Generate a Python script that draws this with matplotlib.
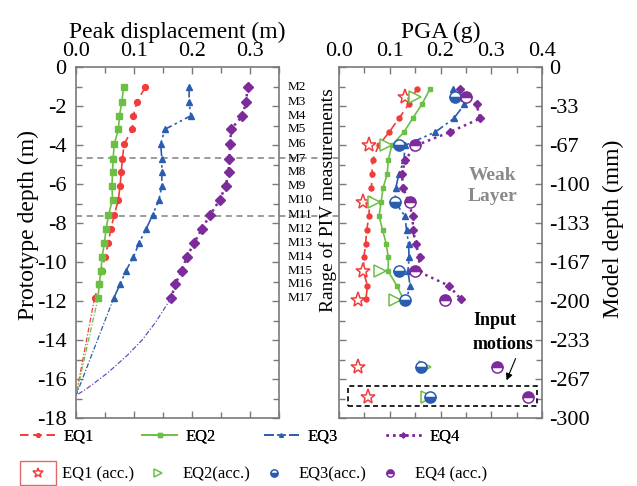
import numpy as np
import matplotlib
matplotlib.use("Agg")
import matplotlib.pyplot as plt
from matplotlib.lines import Line2D
from matplotlib.patches import Rectangle

plt.rcParams["font.family"] = ["Liberation Serif", "DejaVu Serif"]
plt.rcParams["axes.unicode_minus"] = False

# ---- values ----
gauges = ["M2", "M3", "M4", "M5", "M6", "M7", "M8", "M9", "M10",
          "M11", "M12", "M13", "M14", "M15", "M16", "M17"]

# left panel: prototype depth (m) and peak displacement (m)
depth_m = [1.05, 1.8, 2.5, 3.2, 3.95, 4.7, 5.4, 6.1, 6.8, 7.6,
           8.3, 9.0, 9.75, 10.45, 11.15, 11.85]
eq1_disp = [0.119, 0.105, 0.099, 0.097, 0.083, 0.080, 0.078, 0.076, 0.073, 0.066,
            0.060, 0.056, 0.050, 0.044, 0.040, 0.032]
eq2_disp = [0.082, 0.079, 0.075, 0.073, 0.066, 0.064, 0.063, 0.062, 0.063, 0.056,
            0.052, 0.049, 0.045, 0.043, 0.040, 0.038]
eq3_disp = [0.195, 0.195, 0.198, 0.153, 0.146, 0.148, 0.148, 0.148, 0.143, 0.132,
            0.121, 0.109, 0.099, 0.086, 0.076, 0.065]
eq4_disp = [0.296, 0.293, 0.287, 0.267, 0.266, 0.264, 0.263, 0.258, 0.248, 0.231,
            0.217, 0.204, 0.191, 0.182, 0.171, 0.164]
base_depth = 16.85
eq4_tail_depth = [11.85, 13.1, 14.0, 14.8, 15.7, 16.4, 16.85]
eq4_tail_disp = [0.164, 0.137, 0.114, 0.088, 0.054, 0.023, 0.0]
weak_layer_m = [4.65, 7.65]

# right panel: model depth (mm) and PGA (g)
depth_mm = [19, 32, 44, 55.5, 67, 79.5, 91.5, 103, 115, 127.5,
            139.5, 151, 162.5, 174.5, 187, 198.5]
eq1_pga = [0.153, 0.137, 0.118, 0.099, 0.078, 0.066, 0.065, 0.064, 0.060, 0.059,
           0.0545, 0.0525, 0.049, 0.048, 0.056, 0.053]
eq2_pga = [0.179, 0.163, 0.145, 0.128, 0.104, 0.097, 0.095, 0.087, 0.083, 0.079,
           0.086, 0.093, 0.097, 0.097, 0.114, 0.127]
eq3_pga = [0.224, 0.247, 0.226, 0.190, 0.130, 0.128, 0.118, 0.112, 0.110, 0.130,
           0.133, 0.137, 0.138, 0.136, 0.140, 0.133]
eq4_pga = [0.239, 0.271, 0.278, 0.219, 0.152, 0.130, 0.124, 0.126, 0.137, 0.145,
           0.146, 0.151, 0.159, 0.155, 0.217, 0.240]

acc_depth_mm = [26, 67, 115, 174.5, 199, 256, 282]
eq1_acc = [0.130, 0.059, 0.048, 0.048, 0.038, 0.038, 0.058]
eq2_acc = [0.150, 0.093, 0.069, 0.081, 0.110, 0.169, 0.173]
eq3_acc = [0.229, 0.119, 0.110, 0.119, 0.130, 0.161, 0.180]
eq4_acc = [0.250, 0.150, 0.140, 0.150, 0.209, 0.311, 0.372]

mm_tick_labels = ["0", "-33", "-67", "-100", "-133", "-167", "-200", "-233", "-267", "-300"]

RED = "#f23b3b"
GREEN = "#6cbf45"
BLUE = "#2a5cb0"
PURPLE = "#7d2a9a"
PURPLE_TAIL = "#6652b4"
FRAME = "#7a7a7a"

styles = {
    "EQ1": dict(color=RED, ls=(0, (5, 3)), marker="o", ms=4.2),
    "EQ2": dict(color=GREEN, ls="-", marker="s", ms=4.2),
    "EQ3": dict(color=BLUE, ls=(0, (6, 2, 1.5, 2, 1.5, 2)), marker="^", ms=4.5),
    "EQ4": dict(color=PURPLE, ls=(0, (1, 1.6)), lw=1.8, marker="D", ms=4.8),
}
acc_styles = {
    "EQ1": dict(marker="*", ms=11, mfc="white", mec=RED, mew=1.1, ls="none"),
    "EQ2": dict(marker=">", ms=8, mfc="white", mec=GREEN, mew=1.1, ls="none"),
    "EQ3": dict(marker="o", ms=8, fillstyle="bottom", mfc=BLUE, markerfacecoloralt="white",
                mec=BLUE, mew=1.1, ls="none"),
    "EQ4": dict(marker="o", ms=8, fillstyle="top", mfc=PURPLE, markerfacecoloralt="white",
                mec=PURPLE, mew=1.1, ls="none"),
}


def style_frame(ax):
    for sp in ax.spines.values():
        sp.set_color(FRAME)
        sp.set_linewidth(1.2)
    ax.tick_params(which="both", direction="in", colors=FRAME, labelcolor="black",
                   top=True, bottom=True, left=True, right=True, labelsize=16)
    ax.tick_params(which="major", length=5, width=1)
    ax.tick_params(which="minor", length=4, width=1)


def main():
    fig = plt.figure(figsize=(6.37, 4.86), dpi=100)
    ax1 = fig.add_axes([0.1193, 0.1399, 0.3187, 0.7222])
    ax2 = fig.add_axes([0.5322, 0.1399, 0.3187, 0.7222])

    # ---- left panel: peak displacement ----
    d = -np.array(depth_m)
    disp = {"EQ1": eq1_disp, "EQ2": eq2_disp, "EQ3": eq3_disp, "EQ4": eq4_disp}
    for name, vals in disp.items():
        st = dict(styles[name])
        lw = st.pop("lw", 1.2)
        ax1.plot(vals, d, lw=lw, **st)
    # extension down to the base
    for name in ["EQ1", "EQ2", "EQ3"]:
        ax1.plot([disp[name][-1], 0], [d[-1], -base_depth], color=styles[name]["color"],
                 lw=0.9, ls=(0, (4, 1.5, 1, 1.5)))
    ax1.plot(eq4_tail_disp, -np.array(eq4_tail_depth), color=PURPLE_TAIL, lw=0.9,
             ls=(0, (4, 1.5, 1, 1.5)))

    ax1.set_xlim(0, 0.35)
    ax1.set_ylim(-18, 0)
    ax1.set_xticks([0, 0.1, 0.2, 0.3])
    ax1.set_xticks(np.arange(0, 0.36, 0.05), minor=True)
    ax1.set_xticklabels(["0.0", "0.1", "0.2", "0.3"])
    ax1.set_yticks(np.arange(-18, 1, 2))
    ax1.set_yticks(np.arange(-18, 1, 1), minor=True)
    style_frame(ax1)
    ax1.xaxis.tick_top()
    ax1.tick_params(which="both", bottom=True, top=True, right=True,
                    labeltop=True, labelbottom=False)
    ax1.tick_params(axis="x", pad=4)
    ax1.tick_params(axis="y", pad=7)
    ax1.xaxis.set_label_position("top")
    ax1.set_xlabel("Peak displacement (m)", fontsize=17, labelpad=3)
    ax1.set_ylabel("Prototype depth (m)", fontsize=17)
    ax1.yaxis.set_label_coords(-0.18, 0.55)

    for y in weak_layer_m:
        ax1.axhline(-y, xmin=0, xmax=2.29, color="#808080", lw=1.1, ls=(0, (4, 3)),
                    clip_on=False, zorder=0.5)

    for name, y in zip(gauges, d):
        ax1.text(1.04, y, name, transform=ax1.get_yaxis_transform(), fontsize=9.5,
                 ha="left", va="center")

    # ---- right panel: PGA ----
    dm = -np.array(depth_mm)
    pga = {"EQ1": eq1_pga, "EQ2": eq2_pga, "EQ3": eq3_pga, "EQ4": eq4_pga}
    for name, vals in pga.items():
        st = dict(styles[name])
        lw = st.pop("lw", 1.2)
        st["ms"] = st["ms"] * 0.85
        ax2.plot(vals, dm, lw=lw, **st)
    da = -np.array(acc_depth_mm)
    acc = {"EQ1": eq1_acc, "EQ2": eq2_acc, "EQ3": eq3_acc, "EQ4": eq4_acc}
    for name, vals in acc.items():
        ax2.plot(vals, da, zorder=4, **acc_styles[name])

    ax2.set_xlim(0, 0.4)
    ax2.set_ylim(-300, 0)
    ax2.set_xticks([0, 0.1, 0.2, 0.3, 0.4])
    ax2.set_xticks(np.arange(0, 0.41, 0.05), minor=True)
    ax2.set_xticklabels(["0.0", "0.1", "0.2", "0.3", "0.4"])
    major = -np.arange(10) * 100 / 3
    ax2.set_yticks(major)
    ax2.set_yticklabels(mm_tick_labels)
    ax2.set_yticks(major[:-1] - 50 / 3, minor=True)
    style_frame(ax2)
    ax2.xaxis.tick_top()
    ax2.yaxis.tick_right()
    ax2.tick_params(which="both", bottom=True, top=True, left=True, right=True,
                    labeltop=True, labelbottom=False, labelleft=False, labelright=True)
    ax2.tick_params(axis="x", pad=4)
    ax2.tick_params(axis="y", pad=5)
    ax2.xaxis.set_label_position("top")
    ax2.set_xlabel("PGA (g)", fontsize=17, labelpad=3)
    ax2.yaxis.set_label_position("right")
    ax2.set_ylabel("Model depth (mm)", fontsize=17)
    ax2.yaxis.set_label_coords(1.3, 0.54)

    ax2.text(-0.055, 0.62, "Range of PIV measurements", transform=ax2.transAxes,
             rotation=90, ha="center", va="center", fontsize=14)
    ax2.text(0.303, -102, "Weak\nLayer", ha="center", va="center", fontsize=14,
             fontweight="bold", color="#8a8a8a", linespacing=1.3)
    ax2.text(0.264, -227, "Input\nmotions", ha="left", va="center", fontsize=13,
             fontweight="bold", linespacing=1.5)
    ax2.annotate("", xy=(0.328, -270), xytext=(0.35, -247),
                 arrowprops=dict(arrowstyle="-|>", color="black", lw=0.8,
                                 mutation_scale=10))
    ax2.add_patch(Rectangle((0.017, -289.7), 0.373, 17.1, fill=False, ec="black",
                            lw=1.2, ls=(0, (3, 2)), zorder=3))

    # ---- legends ----
    line_handles = []
    for name in ["EQ1", "EQ2", "EQ3", "EQ4"]:
        st = dict(styles[name])
        lw = st.pop("lw", 1.2)
        st["ms"] = 2.5
        line_handles.append(Line2D([], [], lw=lw, **st))
    leg1 = fig.legend(line_handles, ["EQ1", "EQ2", "EQ3", "EQ4"], ncol=4,
                      loc="center left", bbox_to_anchor=(20 / 637, 0.101), frameon=False,
                      fontsize=12, handlelength=2.1, handletextpad=0.5,
                      columnspacing=2.9, borderpad=0, borderaxespad=0)
    acc_handles = []
    for name in ["EQ1", "EQ2", "EQ3", "EQ4"]:
        st = dict(acc_styles[name])
        st["ms"] = st["ms"] * 0.65
        acc_handles.append(Line2D([], [], **st))
    fig.legend(acc_handles, ["EQ1 (acc.)", "EQ2(acc.)", "EQ3(acc.)", "EQ4 (acc.)"],
               ncol=4, loc="center left", bbox_to_anchor=(20 / 637, 0.024), frameon=False,
               fontsize=12, handlelength=2.1, handletextpad=0.4, columnspacing=0.4,
               borderpad=0, borderaxespad=0)
    fig.add_artist(leg1)
    fig.patches.append(Rectangle((20 / 637, 1 - 485 / 486), 36 / 637, 24 / 486,
                                 transform=fig.transFigure, fill=False,
                                 ec="#e06a6a", lw=1))

    fig.savefig("out.png", dpi=100)


if __name__ == "__main__":
    main()
